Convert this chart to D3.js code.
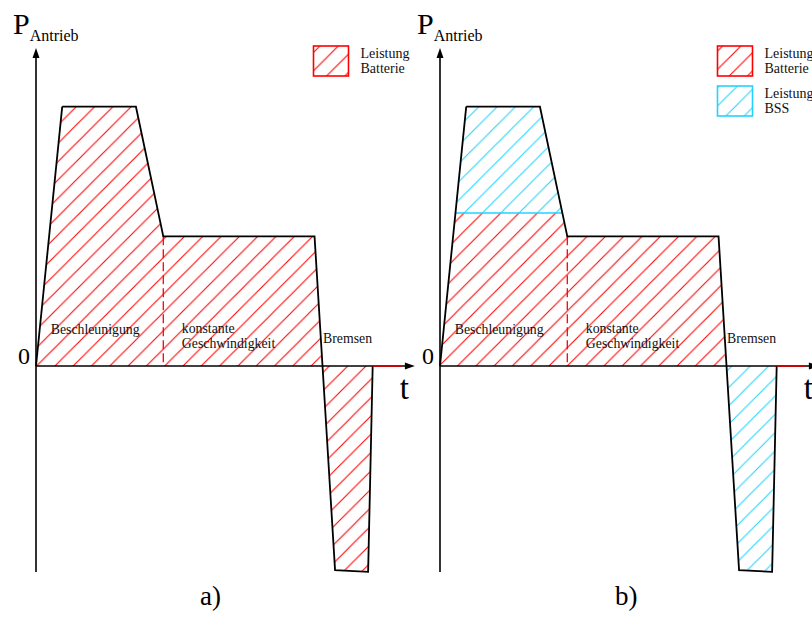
<!DOCTYPE html>
<html>
<head>
<meta charset="utf-8">
<script src="https://cdn.jsdelivr.net/npm/d3@7"></script>
<style>
  html, body { margin: 0; padding: 0; background: #fff; }
  svg text { font-family: "Liberation Serif", "DejaVu Serif", serif; }
</style>
</head>
<body>
<svg id="chart" width="812" height="619"></svg>
<script>
// Drive power profile over one cycle: acceleration, constant speed, braking
const profileTime  = [0, 6.9, 26.3, 33.5, 73.3, 75.4];
const profilePower = [0, 100, 100, 50, 50, 0];

// Braking (negative power, recuperation)
const brakeTime  = [75.4, 78.7, 87.4, 88.6];
const brakePower = [0, -78.7, -79.4, 0];

// End of the acceleration phase, recuperation segment on the time axis
const accelEnd = 33.5;
const recupEnd = 96.1;

// Power above this level is covered by the BSS in variant b)
const bssThreshold = 59;

// Axis extents
const axisTime  = [0, 99.7];
const axisPower = [-79.4, 122.6];

// Texts
const phaseLabels = ["Beschleunigung", ["konstante", "Geschwindigkeit"], "Bremsen"];
const legendBattery = ["Leistung", "Batterie"];
const legendBss = ["Leistung", "BSS"];
const panelCaptions = ["a)", "b)"];

const RED = "#ff0000";
const CYAN = "#22d3ff";
const SERIF = "'Liberation Serif', 'DejaVu Serif', serif";

const svg = d3.select("#chart");
const defs = svg.append("defs");

function hatch(id, color) {
  const p = defs.append("pattern")
    .attr("id", id)
    .attr("patternUnits", "userSpaceOnUse")
    .attr("width", 18.3).attr("height", 18.3);
  p.append("path")
    .attr("d", "M-4.6,4.6 L4.6,-4.6 M0,18.3 L18.3,0 M13.7,22.9 L22.9,13.7")
    .attr("stroke", color).attr("stroke-width", 1.05).attr("fill", "none");
}
hatch("hatchRed", RED);
hatch("hatchCyan", CYAN);

const y = d3.scaleLinear().domain([0, 100]).range([366, 106.7]);

function txt(parent, xPos, yPos, size, s) {
  return parent.append("text")
    .attr("x", xPos).attr("y", yPos)
    .attr("font-family", SERIF).attr("font-size", size)
    .attr("fill", "#111").text(s);
}

function drawPanel(idx, offset, withBss, captionX) {
  const x = d3.scaleLinear().domain([0, 100]).range([36 + offset, 416 + offset]);
  const g = svg.append("g");

  const drive = profileTime.map((t, i) => [x(t), y(profilePower[i])]);
  const brake = brakeTime.map((t, i) => [x(t), y(brakePower[i])]);
  const line = d3.line();

  // Filled areas
  g.append("path").attr("d", line(drive) + "Z").attr("fill", "url(#hatchRed)");
  g.append("path").attr("d", line(brake) + "Z")
    .attr("fill", withBss ? "url(#hatchCyan)" : "url(#hatchRed)");

  if (withBss) {
    const clipId = "bssClip" + idx;
    defs.append("clipPath").attr("id", clipId)
      .append("rect")
      .attr("x", x(0)).attr("y", y(axisPower[1]))
      .attr("width", x(100) - x(0))
      .attr("height", y(bssThreshold) - y(axisPower[1]));
    const top = g.append("g").attr("clip-path", `url(#${clipId})`);
    top.append("path").attr("d", line(drive) + "Z").attr("fill", "#fff");
    top.append("path").attr("d", line(drive) + "Z").attr("fill", "url(#hatchCyan)");

    // Boundary line between battery and BSS share
    const polyClip = "driveClip" + idx;
    defs.append("clipPath").attr("id", polyClip)
      .append("path").attr("d", line(drive) + "Z");
    g.append("line")
      .attr("clip-path", `url(#${polyClip})`)
      .attr("x1", x(0)).attr("x2", x(accelEnd + 5))
      .attr("y1", y(bssThreshold)).attr("y2", y(bssThreshold))
      .attr("stroke", CYAN).attr("stroke-width", 1.6);
  }

  // Phase boundary
  g.append("line")
    .attr("x1", x(accelEnd)).attr("x2", x(accelEnd))
    .attr("y1", y(profilePower[3])).attr("y2", y(0))
    .attr("stroke", RED).attr("stroke-width", 1.3)
    .attr("stroke-dasharray", "9,4");

  // Outline
  g.append("path").attr("d", line(drive.slice(1)))
    .attr("fill", "none").attr("stroke", "#000").attr("stroke-width", 1.8);
  g.append("path").attr("d", line([drive[0], drive[1]]))
    .attr("fill", "none").attr("stroke", "#000").attr("stroke-width", 1.8);
  g.append("path").attr("d", line(brake))
    .attr("fill", "none").attr("stroke", "#000").attr("stroke-width", 1.8);

  // Axes
  g.append("line")
    .attr("x1", x(0)).attr("x2", x(0))
    .attr("y1", y(axisPower[0])).attr("y2", y(axisPower[1]) + 8)
    .attr("stroke", "#000").attr("stroke-width", 1.6);
  g.append("path")
    .attr("d", `M${x(0)},${y(axisPower[1])} L${x(0) - 3.5},${y(axisPower[1]) + 10} L${x(0) + 3.5},${y(axisPower[1]) + 10} Z`)
    .attr("fill", "#000");

  g.append("line")
    .attr("x1", x(0)).attr("x2", x(axisTime[1]) - 8)
    .attr("y1", y(0)).attr("y2", y(0))
    .attr("stroke", "#000").attr("stroke-width", 1.6);
  g.append("line")
    .attr("x1", x(brakeTime[3])).attr("x2", x(recupEnd))
    .attr("y1", y(0)).attr("y2", y(0))
    .attr("stroke", "#d40000").attr("stroke-width", 1.8);
  g.append("path")
    .attr("d", `M${x(axisTime[1])},${y(0)} L${x(axisTime[1]) - 10},${y(0) - 3.5} L${x(axisTime[1]) - 10},${y(0) + 3.5} Z`)
    .attr("fill", "#000");

  // Axis labels
  const pl = g.append("text").attr("x", x(0) - 23).attr("y", 34)
    .attr("font-family", SERIF).attr("fill", "#000");
  pl.append("tspan").attr("font-size", 30).text("P");
  pl.append("tspan").attr("font-size", 16).attr("dy", 7).text("Antrieb");

  txt(g, x(0) - 18, 364, 24, "0").attr("fill", "#000");
  txt(g, x(axisTime[1]) - 15, 399, 33, "t").attr("fill", "#000");

  // Phase labels
  txt(g, x(0) + 14.7, 334, 13.8, phaseLabels[0]);
  txt(g, x(accelEnd) + 18.5, 333, 13.8, phaseLabels[1][0]);
  txt(g, x(accelEnd) + 18.5, 348, 13.8, phaseLabels[1][1]);
  txt(g, x(profileTime[5]) + 0.5, 343, 13.8, phaseLabels[2]);

  // Legend
  const entries = withBss ? [[legendBattery, RED, "url(#hatchRed)"], [legendBss, CYAN, "url(#hatchCyan)"]]
                          : [[legendBattery, RED, "url(#hatchRed)"]];
  entries.forEach((e, i) => {
    const bx = 314 + offset - 0.5, by = 46 + i * 40;
    g.append("rect").attr("x", bx).attr("y", by).attr("width", 35).attr("height", 30)
      .attr("fill", e[2]).attr("stroke", e[1]).attr("stroke-width", 1.6);
    txt(g, bx + 47, by + 12, 14, e[0][0]);
    txt(g, bx + 47, by + 27, 14, e[0][1]);
  });

  // Caption
  txt(g, captionX, 605, 27, panelCaptions[idx]).attr("fill", "#000");
}

drawPanel(0, 0, false, 200);
drawPanel(1, 404, true, 615);
</script>
</body>
</html>
